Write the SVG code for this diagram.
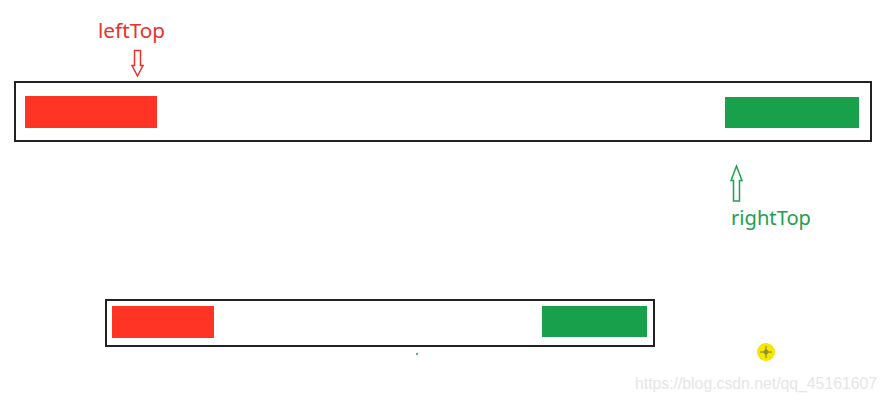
<svg xmlns="http://www.w3.org/2000/svg" width="887" height="402" viewBox="0 0 887 402">
<style>
.box{fill:#fff;stroke:#222;stroke-width:2}
.red{fill:#ff3425}
.green{fill:#18a04a}
.lbl{font-family:"Noto Sans","Liberation Sans",sans-serif;font-size:19px}
.wm{font-family:"Liberation Sans",Arial,sans-serif;font-size:16px;fill:#e6e6e6}
</style>
<rect width="887" height="402" fill="#fff"/>
<g id="top-bar">
<rect class="box" x="15" y="82" width="856" height="59"/>
<rect class="red" x="25" y="96" width="132" height="32"/>
<rect class="green" x="725" y="97" width="134" height="31"/>
</g>
<g id="bottom-bar">
<rect class="box" x="106" y="300" width="548" height="46"/>
<rect class="red" x="112" y="306" width="102" height="32"/>
<rect class="green" x="542" y="306" width="105" height="31"/>
</g>
<g id="leftTop">
<text class="lbl" x="98" y="38" fill="#e8312a" textLength="67" lengthAdjust="spacingAndGlyphs">leftTop</text>
</g>
<g id="rightTop">
<text class="lbl" x="731" y="225" fill="#1ea050" textLength="80" lengthAdjust="spacingAndGlyphs">rightTop</text>
</g>
<g id="connectors">
<path d="M134.5 50.5 H140.5 V65.5 H143 L137.5 76 L132 65.5 H134.5 Z" fill="none" stroke="#e8312a" stroke-width="1.5"/>
<path d="M733.5 201 H739.5 V180.5 H742 L736.5 166 L731 180.5 H733.5 Z" fill="none" stroke="#1ea050" stroke-width="1.5"/>
</g>
<g id="cursor">
<circle cx="766" cy="352" r="9" fill="#f5e800"/>
<path d="M766 346 V358 M760 352 H772" stroke="#7a7040" stroke-width="1"/>
<circle cx="766" cy="352" r="2" fill="none" stroke="#7a7040" stroke-width="0.8"/>
</g>
<rect x="416" y="353" width="2" height="2" fill="#5ab08a"/>
<text class="wm" x="635" y="389" textLength="242" lengthAdjust="spacingAndGlyphs">https://blog.csdn.net/qq_45161607</text>
</svg>
